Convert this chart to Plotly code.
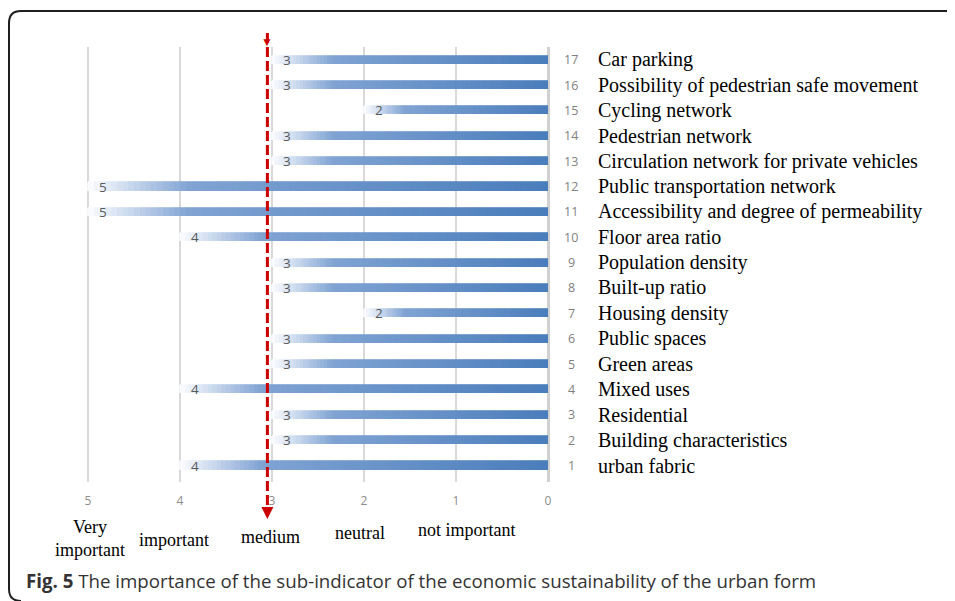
import plotly.graph_objects as go

# sub-indicators, numbered bottom to top
numbers = list(range(1, 18))
names = ["urban fabric", "Building characteristics", "Residential", "Mixed uses",
         "Green areas", "Public spaces", "Housing density", "Built-up ratio",
         "Population density", "Floor area ratio",
         "Accessibility and degree of permeability", "Public transportation network",
         "Circulation network for private vehicles", "Pedestrian network",
         "Cycling network", "Possibility of pedestrian safe movement", "Car parking"]
scores = [4, 3, 3, 4, 3, 3, 2, 3, 3, 4, 5, 5, 3, 3, 2, 3, 3]

scale_ticks = [5, 4, 3, 2, 1, 0]
level_labels = ["Very<br>important", "important", "medium", "neutral", "not important"]
level_x = [4.98, 4.07, 3.02, 2.04, 0.88]
level_py = [538, 540, 537, 533, 530]
medium_line = 3.05

caption = "<b>Fig. 5</b> The importance of the sub-indicator of the economic sustainability of the urban form"

# page body has an 8px margin, so work in screen pixels minus 8
OFF = 8
FW, FH = 955 - OFF, 601 - OFF
L, R, T, B = 80 - OFF, 556 - OFF, 47 - OFF, 482 - OFF
W, H = R - L, B - T


def px_x(px):
    return (px - OFF - L) / W


def px_y(py):
    return (B - (py - OFF)) / H


def mix(c1, c2, t):
    return tuple(round(a + (b - a) * t) for a, b in zip(c1, c2))


dark, mid, light = (74, 125, 187), (128, 163, 211), (252, 253, 255)


def grad(t):
    if t < 0.78:
        c = mix(dark, mid, t / 0.78)
    else:
        c = mix(mid, light, (t - 0.78) / 0.22)
    return "rgb(%d,%d,%d)" % c


fig = go.Figure()

# gradient bars: each bar is split into stacked slices
K = 80
for i in range(K):
    col = grad((i + 0.5) / K)
    fig.add_trace(go.Bar(y=numbers, x=[s / K for s in scores], orientation="h",
                         width=0.32, marker=dict(color=col, line=dict(width=0.8, color=col)),
                         showlegend=False, hoverinfo="skip"))

fig.update_layout(
    width=FW, height=FH, barmode="stack", bargap=0,
    margin=dict(l=L, r=FW - R, t=T, b=FH - B),
    plot_bgcolor="white", paper_bgcolor="white",
)
fig.update_xaxes(range=[5 + 8 / 92, -8 / 92], tickvals=scale_ticks,
                 showgrid=True, gridcolor="#d9d9d9", gridwidth=1.5,
                 zeroline=True, zerolinecolor="#d0d0d0", zerolinewidth=3,
                 ticks="outside", ticklen=8, tickcolor="rgba(0,0,0,0)",
                 tickfont=dict(size=12, color="#8c8c8c", family="Open Sans"))
fig.update_yaxes(range=[0.35, 17.5], showticklabels=False, showgrid=False, zeroline=False)

# value labels at the end of each bar
for n, s in zip(numbers, scores):
    fig.add_annotation(x=s, y=n, xref="x", yref="y", text=str(s), showarrow=False,
                       xanchor="center", xshift=15,
                       font=dict(size=13.5, color="#595959", family="Open Sans"))

# numbers and names on the right
for n, name in zip(numbers, names):
    fig.add_annotation(x=px_x(571), y=n, xref="paper", yref="y", text=str(n), showarrow=False,
                       xanchor="center", font=dict(size=12.5, color="#7f7f7f", family="Open Sans"))
    fig.add_annotation(x=px_x(596), y=n, xref="paper", yref="y", text=name, showarrow=False,
                       xanchor="left", font=dict(size=20, color="black", family="Liberation Serif"))

# level labels under the axis
for lab, lx, ly in zip(level_labels, level_x, level_py):
    fig.add_annotation(x=lx, y=px_y(ly), xref="x", yref="paper", text=lab, showarrow=False,
                       xanchor="center", yanchor="middle",
                       font=dict(size=18, color="black", family="Liberation Serif"))

# red dashed "medium" line
fig.add_shape(type="line", xref="x", yref="paper", x0=medium_line, x1=medium_line,
              y0=px_y(33), y1=px_y(511), line=dict(color="#cc0000", width=3, dash="10px,4px"),
              layer="above")
fig.add_annotation(x=medium_line, y=px_y(519), xref="x", yref="paper", text="", showarrow=True,
                   ax=0, ay=-8, arrowhead=2, arrowsize=0.8, arrowwidth=3, arrowcolor="#cc0000")
fig.add_annotation(x=medium_line, y=px_y(31), xref="x", yref="paper", text="▼", showarrow=False,
                   font=dict(size=12, color="#cc0000"))

# frame: left edge with rounded corners, top edge running off the page
l0, t0, r0, b0 = px_x(9), px_y(11), px_x(955), px_y(601)
rx, ry = 12 / W, 12 / H
fig.add_shape(type="path", xref="paper", yref="paper",
              path=f"M {l0 + rx},{b0} Q {l0},{b0} {l0},{b0 + ry} "
                   f"L {l0},{t0 - ry} Q {l0},{t0} {l0 + rx},{t0} L {r0},{t0}",
              line=dict(color="#1f1f1f", width=2))

fig.add_annotation(x=px_x(24), y=px_y(580), xref="paper", yref="paper", text=caption,
                   showarrow=False, xanchor="left", yanchor="middle",
                   font=dict(size=18.7, color="#333333", family="Open Sans"))

fig.write_html("out.html")
